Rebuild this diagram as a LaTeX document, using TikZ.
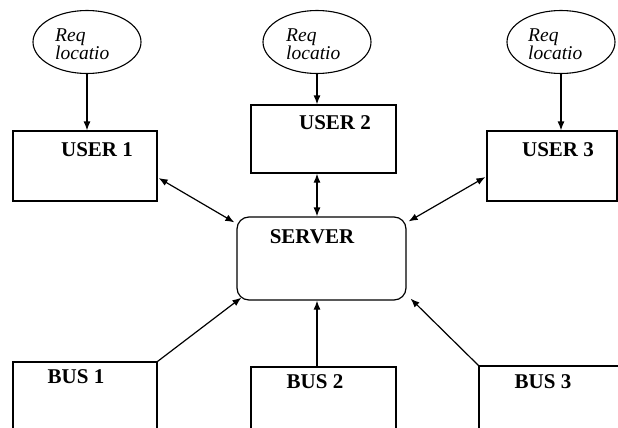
\documentclass[tikz,border=0pt]{standalone}
\usepackage{fontspec}
\setmainfont{Liberation Serif}[ItalicFont={Liberation Serif Italic},BoldFont={Liberation Serif Bold}]
\usetikzlibrary{arrows.meta,shapes.geometric,calc}
\begin{document}
\begin{tikzpicture}[x=1pt,y=-1pt,
  box/.style={draw=black,line width=1.2pt,rectangle,inner sep=0pt},
  srvbox/.style={draw=black,line width=1.2pt,rectangle,rounded corners=12pt,inner sep=0pt},
  req/.style={draw=black,line width=1.1pt,ellipse,inner sep=0pt,minimum width=108pt,minimum height=63pt},
  lbl/.style={font=\fontsize{21}{24}\selectfont\bfseries,inner sep=0pt},
  reqtxt/.style={font=\fontsize{19.5}{18}\selectfont\itshape,align=left,inner sep=0pt,anchor=west},
  arr/.style={line width=1.2pt,-{Latex[length=9pt,width=7pt]}},
  darr/.style={line width=1.2pt,{Latex[length=9pt,width=7pt]}-{Latex[length=9pt,width=7pt]}}]
\useasboundingbox (0,0) rectangle (618,428);
\clip (0,0) rectangle (618,428);
\fill[white] (0,0) rectangle (618,428);
% request ellipses
\node[req] (e1) at (87,42) {};
\node[req] (e2) at (317,42) {};
\node[req] (e3) at (561,42) {};
\node[reqtxt] (t1) at (55,44) {Req\\locatio};
\node[reqtxt] (t2) at (286,44) {Req\\locatio};
\node[reqtxt] (t3) at (528,44) {Req\\locatio};
% users
\node[box,minimum width=144pt,minimum height=70pt] (u1) at (85,166) {};
\node[box,minimum width=145pt,minimum height=68pt] (u2) at (323.5,139) {};
\node[box,minimum width=130pt,minimum height=70pt] (u3) at (552,166) {};
\node[lbl] (lu1) at (97,150) {USER 1};
\node[lbl] (lu2) at (335,123) {USER 2};
\node[lbl] (lu3) at (558,150) {USER 3};
% server
\node[srvbox,minimum width=169pt,minimum height=83pt] (srv) at (321.5,258.5) {};
\node[lbl] (ls) at (312,237) {SERVER};
% buses
\node[box,minimum width=144pt,minimum height=88pt] (b1) at (85,406) {};
\node[box,minimum width=145pt,minimum height=83pt] (b2) at (323.5,408.5) {};
\node[box,minimum width=146pt,minimum height=84pt] (b3) at (552,408) {};
\node[lbl] (lb1) at (76,377) {BUS 1};
\node[lbl] (lb2) at (315,382) {BUS 2};
\node[lbl] (lb3) at (543,382) {BUS 3};
% connectors
\draw[arr] (e1.south) -- (e1.south |- u1.north);
\draw[arr] (e2.south) -- (e2.south |- u2.north);
\draw[arr] (e3.south) -- (e3.south |- u3.north);
\draw[darr] (u2.south -| e2.south) -- (srv.north -| e2.south);
\draw[darr] ($(u1.east)+(1,12)$) -- ($(srv.north west)+(-2,6)$);
\draw[darr] ($(u3.west)+(-1,11)$) -- ($(srv.north east)+(2,5)$);
\draw[arr] (b1.north east) -- ($(srv.south west)+(5,-3)$);
\draw[arr] (b2.north -| e2.south) -- (srv.south -| e2.south);
\draw[arr] (b3.north west) -- ($(srv.south east)+(4,-2)$);
\end{tikzpicture}
\end{document}
